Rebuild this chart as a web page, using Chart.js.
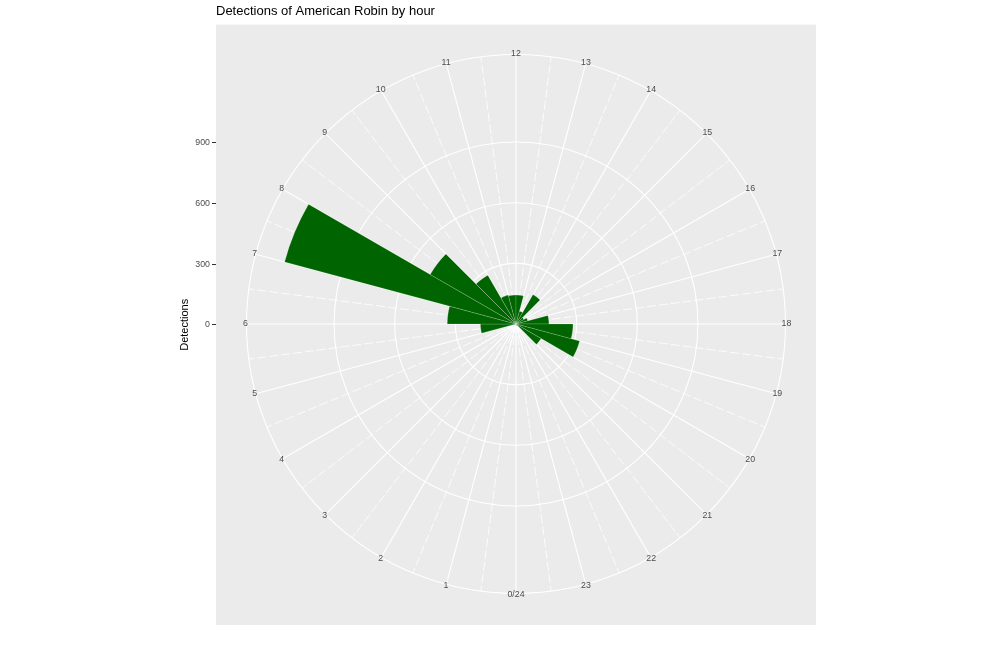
<!DOCTYPE html>
<html>
<head>
<meta charset="utf-8">
<script src="https://cdn.jsdelivr.net/npm/chart.js@4/dist/chart.umd.min.js"></script>
<style>
  html, body { margin: 0; padding: 0; background: #ffffff; }
  #wrap { width: 1000px; height: 651px; position: relative; }
</style>
</head>
<body>
<div id="wrap"><canvas id="chart"></canvas></div>
<script>
/* 資料：每小時偵測次數 */
var HOURS = ['0/24', '1', '2', '3', '4', '5', '6', '7', '8', '9', '10', '11',
             '12', '13', '14', '15', '16', '17', '18', '19', '20', '21', '22', '23'];
var DETECTIONS = [6, 3, 2, 4, 12, 176, 340, 1185, 490, 279, 148, 143,
                  143, 65, 168, 45, 60, 163, 282, 326, 143, 10, 8, 6];
var R_TICKS = [0, 300, 600, 900];

/* 比例：資料最大值在 0.4，外圈在 0.45 (ggplot coord_polar) */
var DATA_MAX = Math.max.apply(null, DETECTIONS);
var OUTER = DATA_MAX * 0.45 / 0.4;
var R_MAX = 1484;          // 繪圖區半徑 (300px) 對應的數值

/* ----------------------------------------------------------------------------------------------------*/
/* 灰底 + 角度格線 + 小時標籤 */
var polarDecor = {
    id: 'polarDecor',
    beforeDraw: function (chart) {
        var ctx = chart.ctx, a = chart.chartArea;
        ctx.save();
        ctx.fillStyle = '#EBEBEB';
        ctx.fillRect(a.left, a.top, a.right - a.left, a.bottom - a.top);
        ctx.restore();
    },
    beforeDatasetsDraw: function (chart) {
        var ctx = chart.ctx, r = chart.scales.r;
        var outer = r.getDistanceFromCenterForValue(OUTER);
        var step = 2 * Math.PI / HOURS.length;
        ctx.save();
        ctx.strokeStyle = '#ffffff';
        for (var i = 0; i < HOURS.length; i++) {
            var ang = r.getIndexAngle(i) - Math.PI / 2;
            // 次格線 (半小時)
            ctx.lineWidth = 0.8;
            ctx.setLineDash([9, 3]);
            ctx.beginPath();
            ctx.moveTo(r.xCenter, r.yCenter);
            ctx.lineTo(r.xCenter + outer * Math.cos(ang + step / 2), r.yCenter + outer * Math.sin(ang + step / 2));
            ctx.stroke();
            // 主格線 (整點)
            ctx.lineWidth = 1.1;
            ctx.setLineDash([]);
            ctx.beginPath();
            ctx.moveTo(r.xCenter, r.yCenter);
            ctx.lineTo(r.xCenter + outer * Math.cos(ang), r.yCenter + outer * Math.sin(ang));
            ctx.stroke();
        }
        ctx.restore();
    },
    afterDatasetsDraw: function (chart) {
        var ctx = chart.ctx, r = chart.scales.r;
        var dist = r.getDistanceFromCenterForValue(OUTER) + 1;
        ctx.save();
        ctx.font = '8.8px "Liberation Sans", Arial, sans-serif';
        ctx.fillStyle = '#4D4D4D';
        ctx.textAlign = 'center';
        ctx.textBaseline = 'middle';
        for (var i = 0; i < HOURS.length; i++) {
            var p = r.getPointPosition(i, dist);
            ctx.fillText(HOURS[i], p.x, p.y);
        }
        ctx.restore();
    }
};

/* ----------------------------------------------------------------------------------------------------*/
/* 繪製圖表 */
var chart = new Chart(document.getElementById('chart'), {
    type: 'polarArea',
    data: {
        labels: HOURS,
        datasets: [{
            label: 'Detections',
            data: DETECTIONS,
            backgroundColor: '#006400',
            borderColor: 'rgba(255,255,255,0.35)',
            borderWidth: 0.5
        }]
    },
    plugins: [polarDecor],
    options: {
        responsive: true,
        maintainAspectRatio: false,
        animation: false,
        layout: { padding: { left: 178, right: 184, top: 0, bottom: 26 } },
        plugins: {
            legend: { display: false },
            tooltip: { enabled: false },
            title: {
                display: true,
                text: 'Detections of American Robin by hour',
                align: 'start',
                fullSize: false,
                color: '#000000',
                font: { family: '"Liberation Sans", Arial, sans-serif', size: 13, weight: 'normal', lineHeight: 1.2 },
                padding: { top: 4, bottom: 5 }
            }
        },
        scales: {
            r: {
                type: 'radialLinear',
                startAngle: 180,
                min: 0,
                max: R_MAX,
                afterBuildTicks: function (s) {
                    s.ticks = R_TICKS.concat([OUTER]).map(function (v) { return { value: v }; });
                },
                ticks: { display: false },
                pointLabels: { display: false },
                angleLines: { display: false },
                grid: { circular: true, color: '#ffffff', lineWidth: 1.1 }
            },
            y: {
                type: 'linear',
                position: 'left',
                min: -R_MAX,
                max: R_MAX,
                afterBuildTicks: function (s) {
                    s.ticks = R_TICKS.map(function (v) { return { value: v }; });
                },
                afterFit: function (s) { s.width = 38; },
                border: { display: false },
                grid: { drawOnChartArea: false, tickLength: 4, color: '#333333', lineWidth: 1 },
                ticks: {
                    color: '#4D4D4D',
                    padding: 2,
                    font: { family: '"Liberation Sans", Arial, sans-serif', size: 8.8 }
                },
                title: {
                    display: true,
                    text: 'Detections',
                    color: '#000000',
                    padding: { top: 0, bottom: 4 },
                    font: { family: '"Liberation Sans", Arial, sans-serif', size: 11 }
                }
            }
        }
    }
});
</script>
</body>
</html>
